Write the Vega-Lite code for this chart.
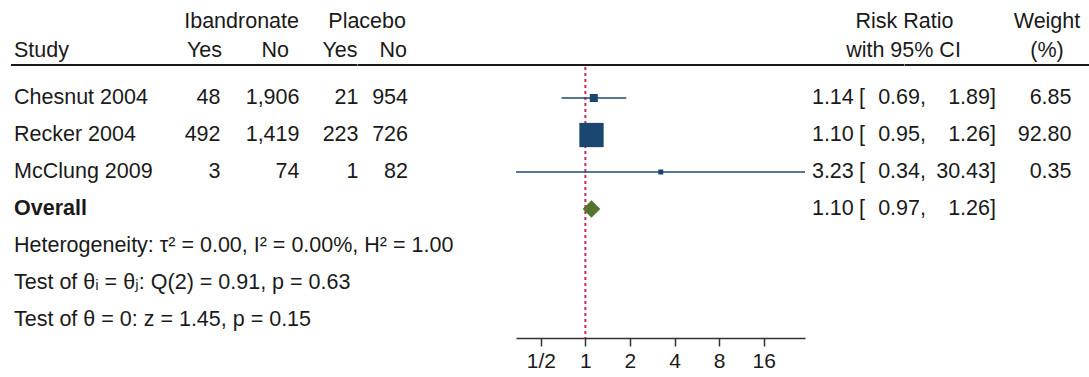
{
  "$schema": "https://vega.github.io/schema/vega-lite/v6.json",
  "padding": {"left": 10, "top": 0, "right": 0, "bottom": 0},
  "bounds": "full",
  "spacing": 0,
  "config": {
    "view": {"stroke": null},
    "font": "Liberation Sans",
    "text": {"font": "Liberation Sans, DejaVu Sans", "fontSize": 21.5, "color": "#1a1a1a", "baseline": "middle"},
    "axis": {"labelFont": "Liberation Sans", "labelFontSize": 21, "labelColor": "#1a1a1a"}
  },
  "datasets": {
    "est": [
      {"row": "Chesnut 2004", "ib_yes": 48, "ib_no": 1906, "pl_yes": 21, "pl_no": 954, "rr": 1.14, "lo": 0.69, "hi": 1.89, "weight": 6.85},
      {"row": "Recker 2004", "ib_yes": 492, "ib_no": 1419, "pl_yes": 223, "pl_no": 726, "rr": 1.10, "lo": 0.95, "hi": 1.26, "weight": 92.80},
      {"row": "McClung 2009", "ib_yes": 3, "ib_no": 74, "pl_yes": 1, "pl_no": 82, "rr": 3.23, "lo": 0.34, "hi": 30.43, "weight": 0.35},
      {"row": "Overall", "rr": 1.10, "lo": 0.97, "hi": 1.26}
    ],
    "notes": [
      {"row": "het", "label": "Heterogeneity: τ² = 0.00, I² = 0.00%, H² = 1.00"},
      {"row": "q", "label": "Test of θᵢ = θⱼ: Q(2) = 0.91, p = 0.63"},
      {"row": "z", "label": "Test of θ = 0: z = 1.45, p = 0.15"}
    ]
  },
  "vconcat": [
    {
      "hconcat": [
        {
          "width": 211, "height": 65,
          "layer": [
            {"data": {"values": [{"line": "h2", "t": "Study"}]}, "mark": {"type": "text", "align": "left", "dx": 3},
             "encoding": {"x": {"value": 0}, "y": {"field": "line", "type": "nominal", "scale": {"type": "point", "domain": ["h1", "h2"], "padding": 0.64, "align": 0.616}, "axis": null}, "text": {"field": "t"}}},
            {"data": {"values": [{"line": "h2", "t": "Yes"}]}, "mark": {"type": "text", "align": "right"},
             "encoding": {"x": {"value": "width"}, "y": {"field": "line", "type": "nominal", "scale": {"type": "point", "domain": ["h1", "h2"], "padding": 0.64, "align": 0.616}, "axis": null}, "text": {"field": "t"}}},
            {"data": {"values": [{}]}, "mark": {"type": "rule", "color": "#1a1a1a", "strokeWidth": 2},
             "encoding": {"x": {"value": 0}, "x2": {"value": "width"}, "y": {"value": "height"}}}
          ]
        },
        {
          "width": 77, "height": 65,
          "layer": [
            {"data": {"values": [{"line": "h1", "t": "Ibandronate"}]}, "mark": {"type": "text", "align": "right"},
             "encoding": {"x": {"value": "width"}, "y": {"field": "line", "type": "nominal", "scale": {"type": "point", "domain": ["h1", "h2"], "padding": 0.64, "align": 0.616}, "axis": null}, "text": {"field": "t"}}},
            {"data": {"values": [{"line": "h2", "t": "No"}]}, "mark": {"type": "text", "align": "right", "dx": -10},
             "encoding": {"x": {"value": "width"}, "y": {"field": "line", "type": "nominal", "scale": {"type": "point", "domain": ["h1", "h2"], "padding": 0.64, "align": 0.616}, "axis": null}, "text": {"field": "t"}}},
            {"data": {"values": [{}]}, "mark": {"type": "rule", "color": "#1a1a1a", "strokeWidth": 2},
             "encoding": {"x": {"value": 0}, "x2": {"value": "width"}, "y": {"value": "height"}}}
          ]
        },
        {
          "width": 58.5, "height": 65,
          "layer": [
            {"data": {"values": [{"line": "h2", "t": "Yes"}]}, "mark": {"type": "text", "align": "right"},
             "encoding": {"x": {"value": "width"}, "y": {"field": "line", "type": "nominal", "scale": {"type": "point", "domain": ["h1", "h2"], "padding": 0.64, "align": 0.616}, "axis": null}, "text": {"field": "t"}}},
            {"data": {"values": [{}]}, "mark": {"type": "rule", "color": "#1a1a1a", "strokeWidth": 2},
             "encoding": {"x": {"value": 0}, "x2": {"value": "width"}, "y": {"value": "height"}}}
          ]
        },
        {
          "width": 49, "height": 65,
          "layer": [
            {"data": {"values": [{"line": "h1", "t": "Placebo"}]}, "mark": {"type": "text", "align": "right", "dx": -1},
             "encoding": {"x": {"value": "width"}, "y": {"field": "line", "type": "nominal", "scale": {"type": "point", "domain": ["h1", "h2"], "padding": 0.64, "align": 0.616}, "axis": null}, "text": {"field": "t"}}},
            {"data": {"values": [{"line": "h2", "t": "No"}]}, "mark": {"type": "text", "align": "right"},
             "encoding": {"x": {"value": "width"}, "y": {"field": "line", "type": "nominal", "scale": {"type": "point", "domain": ["h1", "h2"], "padding": 0.64, "align": 0.616}, "axis": null}, "text": {"field": "t"}}},
            {"data": {"values": [{}]}, "mark": {"type": "rule", "color": "#1a1a1a", "strokeWidth": 2},
             "encoding": {"x": {"value": 0}, "x2": {"value": "width"}, "y": {"value": "height"}}}
          ]
        },
        {
          "width": 497.5, "height": 65,
          "layer": [
            {"data": {"values": [{"line": "h1", "t": "Risk Ratio"}]}, "mark": {"type": "text", "align": "center"},
             "encoding": {"x": {"value": "width"}, "y": {"field": "line", "type": "nominal", "scale": {"type": "point", "domain": ["h1", "h2"], "padding": 0.64, "align": 0.616}, "axis": null}, "text": {"field": "t"}}},
            {"data": {"values": [{"line": "h2", "t": "with 95% CI"}]}, "mark": {"type": "text", "align": "center", "dx": -1},
             "encoding": {"x": {"value": "width"}, "y": {"field": "line", "type": "nominal", "scale": {"type": "point", "domain": ["h1", "h2"], "padding": 0.64, "align": 0.616}, "axis": null}, "text": {"field": "t"}}},
            {"data": {"values": [{}]}, "mark": {"type": "rule", "color": "#1a1a1a", "strokeWidth": 2},
             "encoding": {"x": {"value": 0}, "x2": {"value": "width"}, "y": {"value": "height"}}}
          ]
        },
        {
          "width": 142, "height": 65,
          "layer": [
            {"data": {"values": [{"line": "h1", "t": "Weight"}, {"line": "h2", "t": "(%)"}]}, "mark": {"type": "text", "align": "center"},
             "encoding": {"x": {"value": "width"}, "y": {"field": "line", "type": "nominal", "scale": {"type": "point", "domain": ["h1", "h2"], "padding": 0.64, "align": 0.616}, "axis": null}, "text": {"field": "t"}}},
            {"data": {"values": [{}]}, "mark": {"type": "rule", "color": "#1a1a1a", "strokeWidth": 2},
             "encoding": {"x": {"value": 0}, "x2": {"value": "width"}, "y": {"value": "height"}}}
          ]
        },
        {
          "width": 43, "height": 65,
          "data": {"values": [{}]},
          "mark": {"type": "rule", "color": "#1a1a1a", "strokeWidth": 2},
          "encoding": {"x": {"value": 0}, "x2": {"value": "width"}, "y": {"value": "height"}}
        }
      ],
      "spacing": 0,
      "bounds": "flush"
    },
    {
      "hconcat": [
        {
          "width": 209.5, "height": 271,
          "layer": [
            {"data": {"name": "est"}, "transform": [{"filter": "datum.row != 'Overall'"}], "mark": {"type": "text", "align": "left", "dx": 3},
             "encoding": {"x": {"value": 0}, "y": {"field": "row", "type": "nominal", "scale": {"type": "point", "domain": ["Chesnut 2004", "Recker 2004", "McClung 2009", "Overall", "het", "q", "z"], "padding": 0.662, "align": 0.633}, "axis": null}, "text": {"field": "row"}}},
            {"data": {"name": "est"}, "transform": [{"filter": "datum.row == 'Overall'"}], "mark": {"type": "text", "align": "left", "dx": 3, "fontWeight": "bold"},
             "encoding": {"x": {"value": 0}, "y": {"field": "row", "type": "nominal", "scale": {"type": "point", "domain": ["Chesnut 2004", "Recker 2004", "McClung 2009", "Overall", "het", "q", "z"], "padding": 0.662, "align": 0.633}, "axis": null}, "text": {"field": "row"}}},
            {"data": {"name": "notes"}, "mark": {"type": "text", "align": "left", "dx": 3},
             "encoding": {"x": {"value": 0}, "y": {"field": "row", "type": "nominal", "scale": {"type": "point", "domain": ["Chesnut 2004", "Recker 2004", "McClung 2009", "Overall", "het", "q", "z"], "padding": 0.662, "align": 0.633}, "axis": null}, "text": {"field": "label"}}},
            {"data": {"name": "est"}, "transform": [{"filter": "isValid(datum.ib_yes)"}], "mark": {"type": "text", "align": "right"},
             "encoding": {"x": {"value": "width"}, "y": {"field": "row", "type": "nominal", "scale": {"type": "point", "domain": ["Chesnut 2004", "Recker 2004", "McClung 2009", "Overall", "het", "q", "z"], "padding": 0.662, "align": 0.633}, "axis": null}, "text": {"field": "ib_yes", "type": "quantitative", "format": ","}}}
          ]
        },
        {
          "width": 78.5, "height": 271,
          "data": {"name": "est"}, "transform": [{"filter": "isValid(datum.ib_no)"}], "mark": {"type": "text", "align": "right"},
          "encoding": {"x": {"value": "width"}, "y": {"field": "row", "type": "nominal", "scale": {"type": "point", "domain": ["Chesnut 2004", "Recker 2004", "McClung 2009", "Overall", "het", "q", "z"], "padding": 0.662, "align": 0.633}, "axis": null}, "text": {"field": "ib_no", "type": "quantitative", "format": ","}}
        },
        {
          "width": 58.5, "height": 271,
          "data": {"name": "est"}, "transform": [{"filter": "isValid(datum.pl_yes)"}], "mark": {"type": "text", "align": "right"},
          "encoding": {"x": {"value": "width"}, "y": {"field": "row", "type": "nominal", "scale": {"type": "point", "domain": ["Chesnut 2004", "Recker 2004", "McClung 2009", "Overall", "het", "q", "z"], "padding": 0.662, "align": 0.633}, "axis": null}, "text": {"field": "pl_yes", "type": "quantitative", "format": ","}}
        },
        {
          "width": 49, "height": 271,
          "data": {"name": "est"}, "transform": [{"filter": "isValid(datum.pl_no)"}], "mark": {"type": "text", "align": "right"},
          "encoding": {"x": {"value": "width"}, "y": {"field": "row", "type": "nominal", "scale": {"type": "point", "domain": ["Chesnut 2004", "Recker 2004", "McClung 2009", "Overall", "het", "q", "z"], "padding": 0.662, "align": 0.633}, "axis": null}, "text": {"field": "pl_no", "type": "quantitative", "format": ","}}
        },
        {
          "width": 107.2, "height": 271,
          "data": {"values": [{}]},
          "mark": {"type": "point", "opacity": 0}
        },
        {
          "width": 289, "height": 271,
          "layer": [
            {"data": {"values": [{"null_effect": 1}]},
             "mark": {"type": "rule", "color": "#cc2a5c", "strokeWidth": 2, "strokeDash": [3, 3]},
             "encoding": {"x": {"field": "null_effect", "type": "quantitative", "scale": {"type": "log", "domain": [0.34, 30.43], "nice": false},
                                "axis": {"orient": "bottom", "values": [0.5, 1, 2, 4, 8, 16], "labelExpr": "datum.value == 0.5 ? '1/2' : format(datum.value, 'd')", "title": null, "grid": false, "domainColor": "#333333", "domainWidth": 1.5, "tickColor": "#333333", "tickWidth": 1.5, "tickSize": 8, "labelPadding": 4, "labelFlush": false, "labelOverlap": false}}}},
            {"data": {"name": "est"}, "transform": [{"filter": "isValid(datum.weight)"}],
             "mark": {"type": "rule", "color": "#1f4a75", "strokeWidth": 1.6},
             "encoding": {"x": {"field": "lo", "type": "quantitative"}, "x2": {"field": "hi"},
                          "y": {"field": "row", "type": "nominal", "scale": {"type": "point", "domain": ["Chesnut 2004", "Recker 2004", "McClung 2009", "Overall", "het", "q", "z"], "padding": 0.662, "align": 0.633}, "axis": null}}},
            {"data": {"name": "est"}, "transform": [{"filter": "isValid(datum.weight)"}],
             "mark": {"type": "point", "shape": "square", "filled": true, "color": "#1a476f", "opacity": 1},
             "encoding": {"x": {"field": "rr", "type": "quantitative"},
                          "y": {"field": "row", "type": "nominal", "scale": {"type": "point", "domain": ["Chesnut 2004", "Recker 2004", "McClung 2009", "Overall", "het", "q", "z"], "padding": 0.662, "align": 0.633}, "axis": null},
                          "size": {"field": "weight", "type": "quantitative", "scale": {"domain": [0, 92.8], "range": [23, 590]}, "legend": null}}},
            {"data": {"name": "est"}, "transform": [{"filter": "datum.row == 'Overall'"}],
             "mark": {"type": "point", "shape": "diamond", "filled": true, "color": "#55752f", "opacity": 1, "size": 310},
             "encoding": {"x": {"field": "rr", "type": "quantitative"},
                          "y": {"field": "row", "type": "nominal", "scale": {"type": "point", "domain": ["Chesnut 2004", "Recker 2004", "McClung 2009", "Overall", "het", "q", "z"], "padding": 0.662, "align": 0.633}, "axis": null}}}
          ]
        },
        {
          "width": 48.8, "height": 271,
          "data": {"name": "est"}, "mark": {"type": "text", "align": "right"},
          "encoding": {"x": {"value": "width"}, "y": {"field": "row", "type": "nominal", "scale": {"type": "point", "domain": ["Chesnut 2004", "Recker 2004", "McClung 2009", "Overall", "het", "q", "z"], "padding": 0.662, "align": 0.633}, "axis": null}, "text": {"field": "rr", "type": "quantitative", "format": ".2f"}}
        },
        {
          "width": 66, "height": 271,
          "data": {"name": "est"},
          "layer": [
            {"mark": {"type": "text", "align": "left", "dx": 5},
             "encoding": {"x": {"value": 0}, "y": {"field": "row", "type": "nominal", "scale": {"type": "point", "domain": ["Chesnut 2004", "Recker 2004", "McClung 2009", "Overall", "het", "q", "z"], "padding": 0.662, "align": 0.633}, "axis": null}, "text": {"value": "["}}},
            {"mark": {"type": "text", "align": "right"},
             "encoding": {"x": {"value": "width"}, "y": {"field": "row", "type": "nominal", "scale": {"type": "point", "domain": ["Chesnut 2004", "Recker 2004", "McClung 2009", "Overall", "het", "q", "z"], "padding": 0.662, "align": 0.633}, "axis": null}, "text": {"field": "lo", "type": "quantitative", "format": ".2f"}}},
            {"mark": {"type": "text", "align": "left"},
             "encoding": {"x": {"value": "width"}, "y": {"field": "row", "type": "nominal", "scale": {"type": "point", "domain": ["Chesnut 2004", "Recker 2004", "McClung 2009", "Overall", "het", "q", "z"], "padding": 0.662, "align": 0.633}, "axis": null}, "text": {"value": ","}}}
          ]
        },
        {
          "width": 70, "height": 271,
          "data": {"name": "est"},
          "layer": [
            {"mark": {"type": "text", "align": "right"},
             "encoding": {"x": {"value": "width"}, "y": {"field": "row", "type": "nominal", "scale": {"type": "point", "domain": ["Chesnut 2004", "Recker 2004", "McClung 2009", "Overall", "het", "q", "z"], "padding": 0.662, "align": 0.633}, "axis": null}, "text": {"field": "hi", "type": "quantitative", "format": ".2f"}}},
            {"mark": {"type": "text", "align": "left"},
             "encoding": {"x": {"value": "width"}, "y": {"field": "row", "type": "nominal", "scale": {"type": "point", "domain": ["Chesnut 2004", "Recker 2004", "McClung 2009", "Overall", "het", "q", "z"], "padding": 0.662, "align": 0.633}, "axis": null}, "text": {"value": "]"}}}
          ]
        },
        {
          "width": 81.5, "height": 271,
          "data": {"name": "est"}, "transform": [{"filter": "isValid(datum.weight)"}], "mark": {"type": "text", "align": "right"},
          "encoding": {"x": {"value": "width"}, "y": {"field": "row", "type": "nominal", "scale": {"type": "point", "domain": ["Chesnut 2004", "Recker 2004", "McClung 2009", "Overall", "het", "q", "z"], "padding": 0.662, "align": 0.633}, "axis": null}, "text": {"field": "weight", "type": "quantitative", "format": ".2f"}}
        }
      ],
      "spacing": 0,
      "bounds": "flush"
    }
  ]
}
